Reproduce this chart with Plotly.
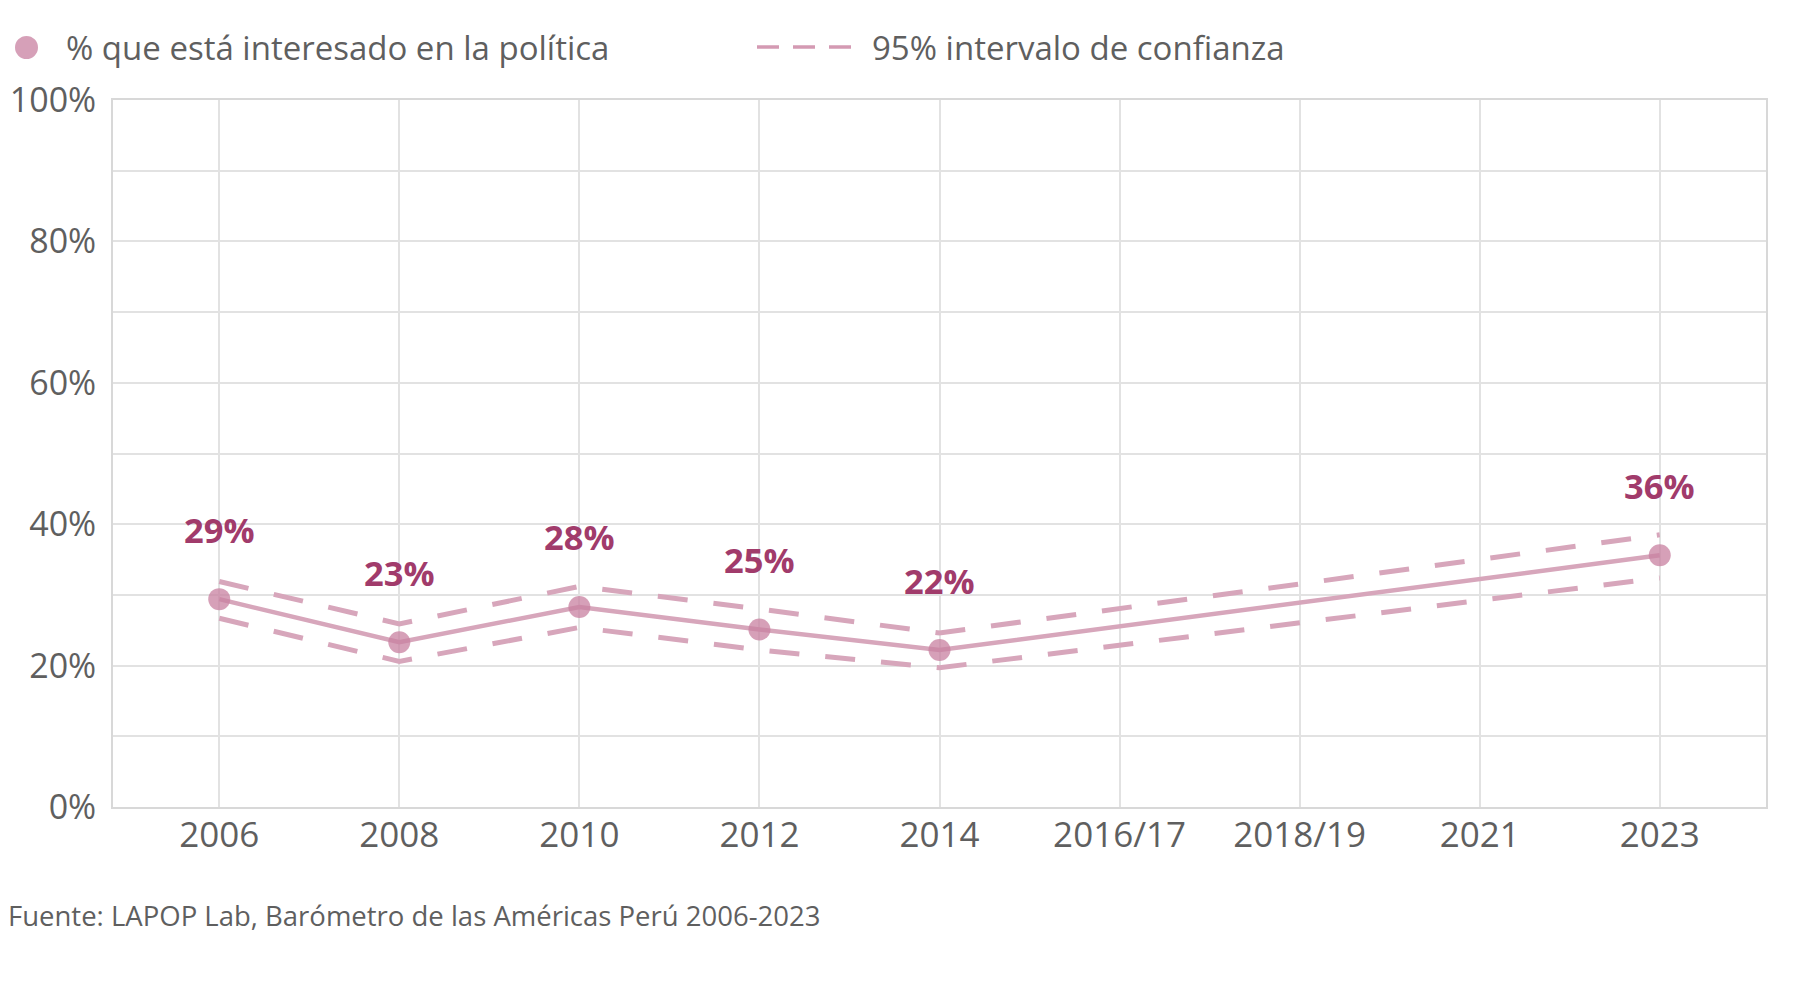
import plotly.graph_objects as go

# waves of the survey
years = ["2006", "2008", "2010", "2012", "2014", "2016/17", "2018/19", "2021", "2023"]
# % interested in politics (None = no data that wave)
interest = [29.4, 23.3, 28.3, 25.1, 22.2, None, None, None, 35.6]
ci_upper = [31.9, 25.9, 31.2, 28.0, 24.6, None, None, None, 38.5]
ci_lower = [26.7, 20.6, 25.4, 22.2, 19.7, None, None, None, 32.4]
labels = ["29%", "23%", "28%", "25%", "22%", None, None, None, "36%"]

name_main = "% que está interesado en la política"
name_ci = "95% intervalo de confianza"
source = "Fuente: LAPOP Lab, Barómetro de las Américas Perú 2006-2023"

line_col = "#d7a6bb"
dot_col = "rgba(200,128,160,0.75)"
lab_col = "#a13b6b"
grid_col = "#e2e2e2"
txt_col = "#5f5f5f"
fnt = "Open Sans"

W, H = 1793, 990
L, R, T, B = 105, 35, 92, 191


def px(x):
    return (x - L) / (W - L - R)


def py(y):
    return (H - B - y) / (H - T - B)


fig = go.Figure()

# confidence interval, dashed
for ci in (ci_upper, ci_lower):
    fig.add_trace(go.Scatter(x=years, y=ci, mode="lines", connectgaps=True,
                             line=dict(color=line_col, width=5, dash="30px,26px"),
                             name=name_ci, showlegend=False))
# main line + points
fig.add_trace(go.Scatter(x=years, y=interest, mode="lines", connectgaps=True,
                         line=dict(color=line_col, width=4.5), showlegend=False))
fig.add_trace(go.Scatter(x=years, y=interest, mode="markers",
                         marker=dict(color=dot_col, size=22, line=dict(width=0)),
                         name=name_main, showlegend=False))

# value labels (category index so "2006" isn't read as a number)
for i, (v, t) in enumerate(zip(interest, labels)):
    if v is None:
        continue
    fig.add_annotation(x=i, y=v, text="<b>" + t + "</b>", showarrow=False,
                       yshift=70, font=dict(family=fnt, size=34.5, color=lab_col))

# legend drawn by hand to match the long dash sample
fig.add_shape(type="circle", xref="paper", yref="paper",
              x0=px(7), x1=px(30), y0=py(28), y1=py(51),
              fillcolor=dot_col, line=dict(width=0))
fig.add_annotation(xref="paper", yref="paper", x=px(56), y=py(40), xanchor="left",
                   yanchor="middle", showarrow=False, text=name_main,
                   font=dict(family=fnt, size=33, color=txt_col))
fig.add_shape(type="line", xref="paper", yref="paper",
              x0=px(749), x1=px(851), y0=py(39), y1=py(39),
              line=dict(color="#d49ab3", width=3.5, dash="22px,14px"))
fig.add_annotation(xref="paper", yref="paper", x=px(862), y=py(40), xanchor="left",
                   yanchor="middle", showarrow=False, text=name_ci,
                   font=dict(family=fnt, size=33, color=txt_col))

fig.add_annotation(xref="paper", yref="paper", x=px(-2), y=py(907), xanchor="left",
                   yanchor="middle", showarrow=False, text=source,
                   font=dict(family=fnt, size=27.5, color=txt_col))

fig.update_xaxes(type="category", range=[-0.59, 8.59], showgrid=True,
                 gridcolor=grid_col, gridwidth=2, showline=True, linecolor="#d8d8d8",
                 linewidth=2, mirror=True, ticks="", ticklabelstandoff=-4,
                 automargin=False,
                 tickfont=dict(family=fnt, size=35, color=txt_col))
fig.update_yaxes(range=[0, 100], dtick=20, ticksuffix="%", showgrid=True,
                 gridcolor=grid_col, gridwidth=2, showline=True, linecolor="#d8d8d8",
                 linewidth=2, mirror=True, zeroline=False, ticks="",
                 ticklabelstandoff=8, automargin=False,
                 minor=dict(dtick=10, showgrid=True, gridcolor=grid_col, gridwidth=2),
                 tickfont=dict(family=fnt, size=34, color=txt_col))

fig.update_layout(
    width=W, height=H,
    margin=dict(l=L, r=R, t=T, b=B),
    paper_bgcolor="white", plot_bgcolor="white",
    showlegend=False,
)

fig.write_html("out.html")
